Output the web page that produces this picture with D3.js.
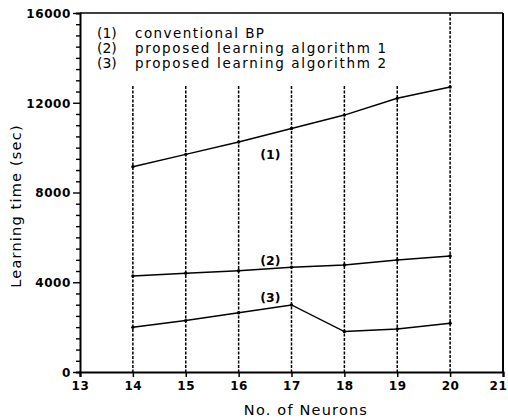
<!DOCTYPE html>
<html>
<head>
<meta charset="utf-8">
<script src="https://cdn.jsdelivr.net/npm/d3@7"></script>
<style>
  body { margin: 0; background: #fff; }
  text { font-family: 'DejaVu Sans', sans-serif; fill: #000; }
</style>
</head>
<body>
<div class="chart"></div>
<script>
// DATA ------------------------------------
const neurons = [14, 15, 16, 17, 18, 19, 20]
const conventionalBP = [9150, 9700, 10250, 10850, 11450, 12200, 12700]
const proposed1 = [4280, 4400, 4510, 4670, 4770, 4990, 5170]
const proposed2 = [1990, 2290, 2640, 2990, 1800, 1920, 2170]
const seriesLabels = ['(1)', '(2)', '(3)']
const legendNames = ['conventional BP', 'proposed learning algorithm 1', 'proposed learning algorithm 2']
const xTicks = [13, 14, 15, 16, 17, 18, 19, 20, 21]
const yTicks = [0, 4000, 8000, 12000, 16000]

const W = 508
const H = 420
const margin = ({ top: 13, right: 5, bottom: 48, left: 80 })

// CHART INIT ------------------------------
const svg = d3.select('.chart')
    .append('svg')
    .attr('width', W)
    .attr('height', H)

const xScale = d3.scaleLinear()
    .domain([13, 21])
    .range([margin.left, W - margin.right])

const yScale = d3.scaleLinear()
    .domain([0, 16000])
    .range([H - margin.bottom, margin.top])

const x0 = xScale(13), x1 = xScale(21)
const y0 = yScale(0), y1 = yScale(16000)

// frame
svg.append('line')
    .attr('x1', x0).attr('x2', x1).attr('y1', y1).attr('y2', y1)
    .attr('stroke', '#000').attr('stroke-width', 1.3)
svg.append('line')
    .attr('x1', x1).attr('x2', x1).attr('y1', y1).attr('y2', y0)
    .attr('stroke', '#000').attr('stroke-width', 2)

// dashed verticals
svg.selectAll('.vgrid')
    .data(neurons)
    .enter()
    .append('line')
    .attr('class', 'vgrid')
    .attr('x1', d => xScale(d))
    .attr('x2', d => xScale(d))
    .attr('y1', d => d == 20 ? y1 : yScale(12750))
    .attr('y2', y0)
    .attr('stroke', '#000')
    .attr('stroke-width', 1.5)
    .attr('stroke-dasharray', '3,1.5')

// y axis
const yAxis = d3.axisLeft(yScale)
    .tickValues(d3.range(0, 16001, 500))
    .tickSize(4)
    .tickFormat('')
const gy = svg.append('g')
    .attr('transform', `translate(${x0},0)`)
    .call(yAxis)
gy.select('.domain').attr('stroke-width', 2)
gy.selectAll('.tick line')
    .attr('stroke-width', 1.4)
    .attr('x2', d => yTicks.includes(d) ? -7 : -4)
gy.selectAll('.tick')
    .filter(d => yTicks.includes(d))
    .append('text')
    .attr('x', -9)
    .attr('dy', '0.36em')
    .attr('text-anchor', 'end')
    .style('font-size', '12px')
    .style('font-weight', 'bold')
    .style('letter-spacing', '0.6px')
    .style('fill', '#000')
    .text(d => d)

// x axis
const xAxis = d3.axisBottom(xScale)
    .tickValues(xTicks)
    .tickSize(5)
    .tickPadding(4)
const gx = svg.append('g')
    .attr('transform', `translate(0,${y0})`)
    .call(xAxis)
gx.select('.domain').attr('stroke-width', 2.2)
gx.selectAll('.tick line').attr('stroke-width', 1.5)
gx.selectAll('.tick text')
    .style('font-size', '12px')
    .style('font-weight', 'bold')
    .style('letter-spacing', '0.6px')
    .style('font-family', "'DejaVu Sans', sans-serif")
    .attr('fill', '#000')
gx.selectAll('.tick')
    .filter(d => d == 21)
    .select('text')
    .attr('text-anchor', 'end')
    .attr('x', 4)
svg.selectAll('.domain').attr('stroke', '#000')

// axis titles
svg.append('text')
    .attr('x', 306)
    .attr('y', 415)
    .attr('text-anchor', 'middle')
    .style('font-size', '14.5px')
    .style('letter-spacing', '1.2px')
    .text('No. of Neurons')

svg.append('text')
    .attr('transform', 'translate(21,206) rotate(-90)')
    .attr('text-anchor', 'middle')
    .style('font-size', '14.5px')
    .style('letter-spacing', '1.2px')
    .text('Learning time (sec)')

// series lines
const series = [conventionalBP, proposed1, proposed2]
const line = d3.line()
    .x((d, i) => xScale(neurons[i]))
    .y(d => yScale(d))

svg.selectAll('.series')
    .data(series)
    .enter()
    .append('path')
    .attr('class', 'series')
    .attr('d', d => line(d))
    .attr('fill', 'none')
    .attr('stroke', '#000')
    .attr('stroke-width', 1.5)

series.forEach(s => {
    svg.selectAll(null)
        .data(s)
        .enter()
        .append('circle')
        .attr('cx', (d, i) => xScale(neurons[i]))
        .attr('cy', d => yScale(d))
        .attr('r', 1.7)
        .attr('fill', '#000')
})

// curve labels
const labelPos = [[16.6, 9500], [16.6, 4750], [16.6, 3120]]
svg.selectAll('.clabel')
    .data(seriesLabels)
    .enter()
    .append('text')
    .attr('class', 'clabel')
    .attr('x', (d, i) => xScale(labelPos[i][0]))
    .attr('y', (d, i) => yScale(labelPos[i][1]))
    .attr('text-anchor', 'middle')
    .style('font-size', '12.5px')
    .style('font-weight', 'bold')
    .text(d => d)

// legend
const legend = svg.append('g')
legendNames.forEach((name, i) => {
    const y = 38 + i * 15
    legend.append('text')
        .attr('x', 97)
        .attr('y', y)
        .style('font-size', '14px')
        .text(seriesLabels[i])
    legend.append('text')
        .attr('x', 135)
        .attr('y', y)
        .style('font-size', '13.5px')
        .attr('textLength', i == 0 ? 129 : 251)
        .attr('lengthAdjust', 'spacing')
        .text(name)
})
</script>
</body>
</html>
